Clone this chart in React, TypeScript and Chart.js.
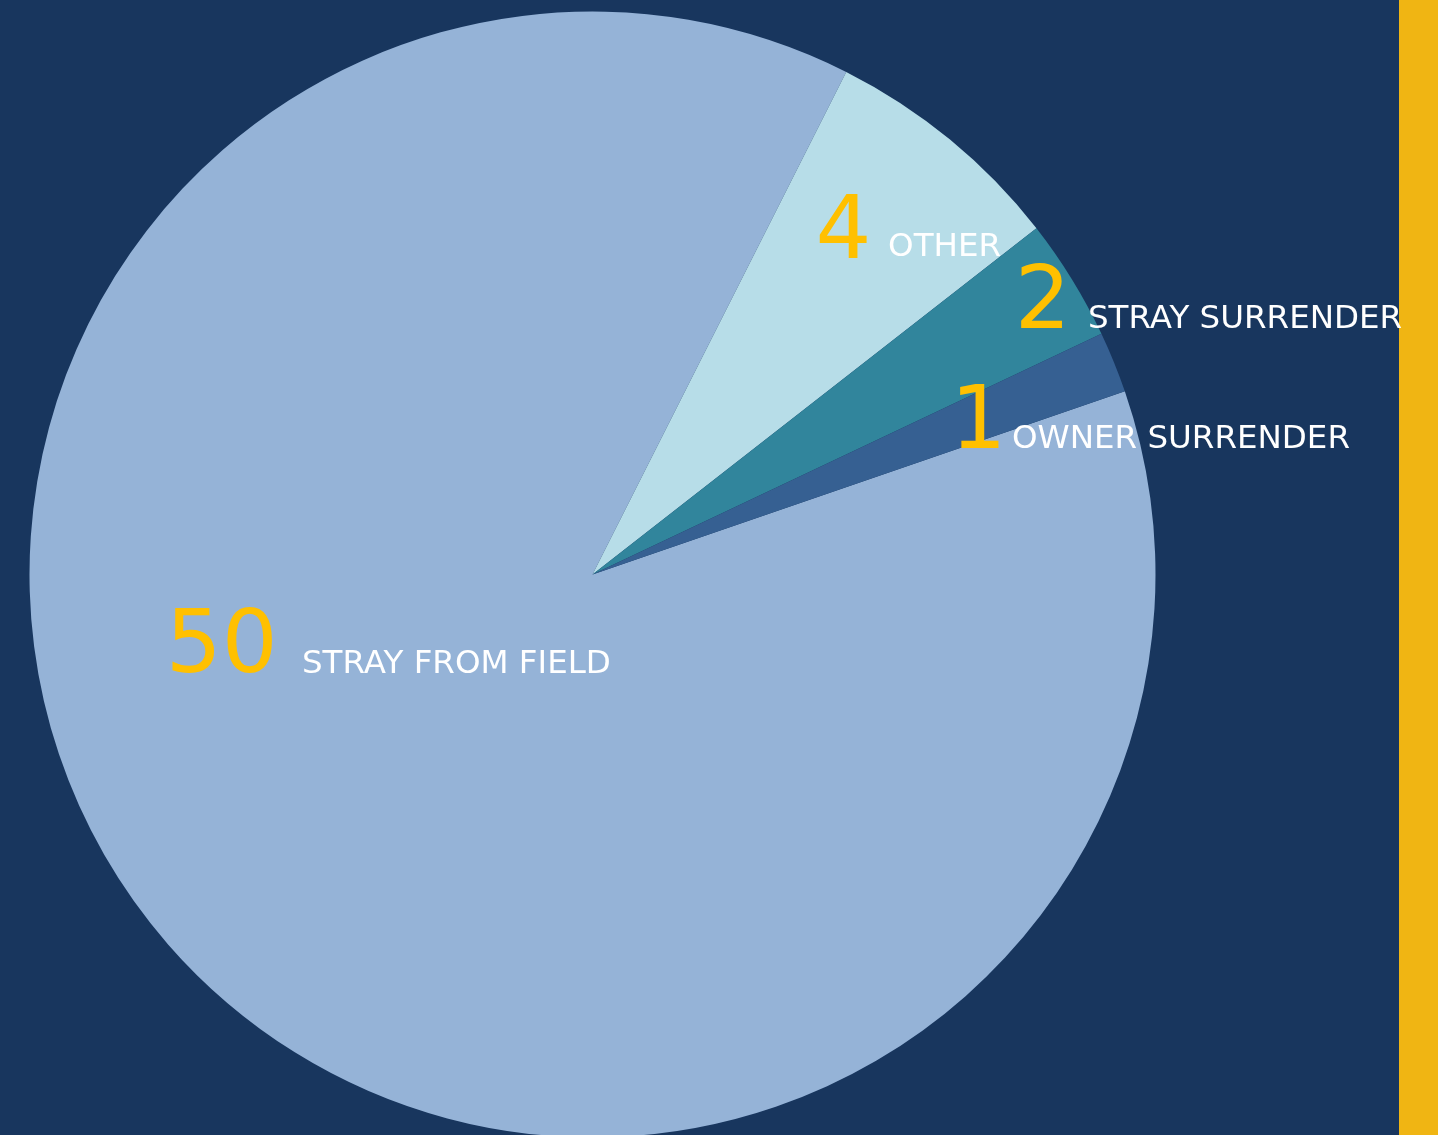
import React, { useEffect, useRef } from "react";
import { Chart, registerables } from "chart.js";

Chart.register(...registerables);

const categories = ["STRAY FROM FIELD", "OTHER", "STRAY SURRENDER", "OWNER SURRENDER"];
const values = [50, 4, 2, 1];
const sliceColors = ["#95B3D7", "#B7DDE8", "#31859C", "#366092"];
// label anchors relative to the pie centre, in units of the pie radius (left edge, baseline)
const numberAnchors = [
  [-0.758, 0.173],
  [0.396, -0.562],
  [0.75, -0.438],
  [0.636, -0.225],
];
const textAnchors = [
  [-0.516, 0.175],
  [0.525, -0.566],
  [0.88, -0.438],
  [0.745, -0.225],
];

const BG = "#18365E";
const NUMBER_COLOR = "#FFC000";
const TEXT_COLOR = "#FFFFFF";
const STRIP_COLOR = "#F0B513";

const labelPlugin = {
  id: "sliceLabels",
  afterDraw(chart: any) {
    const meta = chart.getDatasetMeta(0);
    const arc = meta.data[0];
    if (!arc) return;
    const cx = arc.x;
    const cy = arc.y;
    const r = arc.outerRadius;
    const ctx = chart.ctx;
    ctx.save();
    ctx.textAlign = "left";
    ctx.textBaseline = "alphabetic";
    values.forEach((v, i) => {
      const [nx, ny] = numberAnchors[i];
      ctx.font = "400 88px 'DejaVu Sans'";
      ctx.fillStyle = NUMBER_COLOR;
      ctx.fillText(String(v), cx + nx * r, cy + ny * r);
      const [tx, ty] = textAnchors[i];
      ctx.font = "400 32.5px 'DejaVu Sans'";
      ctx.fillStyle = TEXT_COLOR;
      ctx.fillText(categories[i], cx + tx * r, cy + ty * r);
    });
    ctx.restore();
  },
};

export default function App() {
  const canvasRef = useRef<HTMLCanvasElement | null>(null);

  useEffect(() => {
    const prevMargin = document.body.style.margin;
    document.body.style.margin = "0";
    const canvas = canvasRef.current;
    if (!canvas) return;
    const chart = new Chart(canvas, {
      type: "pie",
      data: {
        labels: categories,
        datasets: [
          {
            data: values,
            backgroundColor: sliceColors,
            borderWidth: 0,
          },
        ],
      },
      options: {
        responsive: false,
        animation: false,
        rotation: 71,
        layout: {
          padding: { left: 29.5, top: 11.5, right: 282.5, bottom: 2.5 },
        },
        plugins: {
          legend: { display: false },
          tooltip: { enabled: false },
        },
      },
      plugins: [labelPlugin],
    });
    return () => {
      chart.destroy();
      document.body.style.margin = prevMargin;
    };
  }, []);

  return (
    <div
      style={{
        position: "fixed",
        left: 0,
        top: 0,
        width: 1438,
        height: 1135,
        overflow: "hidden",
        background: BG,
      }}
    >
      <div
        style={{
          position: "absolute",
          left: 1399,
          top: 0,
          width: 39,
          height: 1135,
          background: STRIP_COLOR,
        }}
      />
      <canvas
        ref={canvasRef}
        width={1438}
        height={1140}
        style={{ position: "absolute", left: 0, top: 0, width: 1438, height: 1140 }}
      />
    </div>
  );
}
